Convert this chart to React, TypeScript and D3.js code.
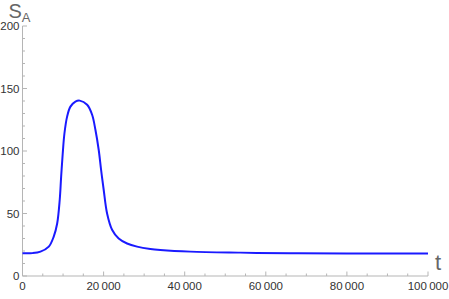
import * as d3 from 'd3';

// curve (t, S_A)
const tValues = [
  0, 2500, 4430, 6480, 7700, 8550, 9180, 9530, 9920, 10340, 11000, 11820, 13050, 14110,
  15940, 17170, 17980, 18790, 19380, 20020, 20860, 22090, 23720, 25790, 28250, 31530,
  34000, 41380, 53690, 66000, 80000, 100000,
];
const sValues = [
  18.2, 18.3, 19.5, 23.5, 31.5, 42, 61, 79.5, 98, 114, 127.5, 135.5, 139.5, 140.3,
  137, 129, 117, 101, 85, 69, 50, 37, 30, 26, 23.5, 21.6,
  20.8, 19.5, 18.7, 18.2, 18.1, 18.0,
];

const xMajor = [0, 20000, 40000, 60000, 80000, 100000];
const yMajor = [0, 50, 100, 150, 200];

const W = 449;
const H = 299;
const font = 'Liberation Sans, Arial, sans-serif';

const fmt = (v: number) => (v >= 1000 ? d3.format(',')(v).replace(/,/g, '\u2009') : String(v));

const App = () => {
  const x = d3.scaleLinear().domain([0, 100000]).range([22.5, 428]);
  const y = d3.scaleLinear().domain([0, 200]).range([276, 26]);

  const xMinor = d3.range(0, 100001, 5000).filter(v => !xMajor.includes(v));
  const yMinor = d3.range(0, 201, 10).filter(v => !yMajor.includes(v));

  const pts = tValues.map((t, i) => [t, sValues[i]] as [number, number]);
  const line = d3.line<[number, number]>()
    .x(d => x(d[0]))
    .y(d => y(d[1]))
    .curve(d3.curveCatmullRom.alpha(0.5));

  const axisColor = '#b5b5b5';
  const labelColor = '#333';

  return (
    <svg width={W} height={H} style={{ position: 'absolute', left: 0, top: 0 }} fontFamily={font}>
      <rect width={W} height={H} fill="#fff" />

      {/* axes */}
      <line x1={x(0)} x2={x(100000)} y1={y(0)} y2={y(0)} stroke={axisColor} strokeWidth={1} />
      <line x1={x(0)} x2={x(0)} y1={y(0)} y2={y(200)} stroke={axisColor} strokeWidth={1} />

      {xMinor.map(v => (
        <line key={'xm' + v} x1={x(v)} x2={x(v)} y1={y(0)} y2={y(0) - 2.5} stroke={axisColor} />
      ))}
      {xMajor.map(v => (
        <g key={'xM' + v}>
          <line x1={x(v)} x2={x(v)} y1={y(0)} y2={y(0) - 4.5} stroke={axisColor} />
          <text x={x(v)} y={290} fontSize={11.5} textAnchor="middle" fill={labelColor}>{fmt(v)}</text>
        </g>
      ))}

      {yMinor.map(v => (
        <line key={'ym' + v} x1={x(0)} x2={x(0) + 2.5} y1={y(v)} y2={y(v)} stroke={axisColor} />
      ))}
      {yMajor.map(v => (
        <g key={'yM' + v}>
          <line x1={x(0)} x2={x(0) + 4.5} y1={y(v)} y2={y(v)} stroke={axisColor} />
          <text x={19.5} y={y(v) + 4} fontSize={11.5} textAnchor="end" fill={labelColor}>{v}</text>
        </g>
      ))}

      {/* curve */}
      <path d={line(pts) || ''} fill="none" stroke="#1a1aff" strokeWidth={2} strokeLinejoin="round" />

      {/* axis labels */}
      <text x={8.5} y={18} fontSize={20} fill="#666">
        S<tspan fontSize={13} dy={4}>A</tspan>
      </text>
      <text x={435} y={270} fontSize={22} fill="#666">t</text>
    </svg>
  );
};

export default App;
